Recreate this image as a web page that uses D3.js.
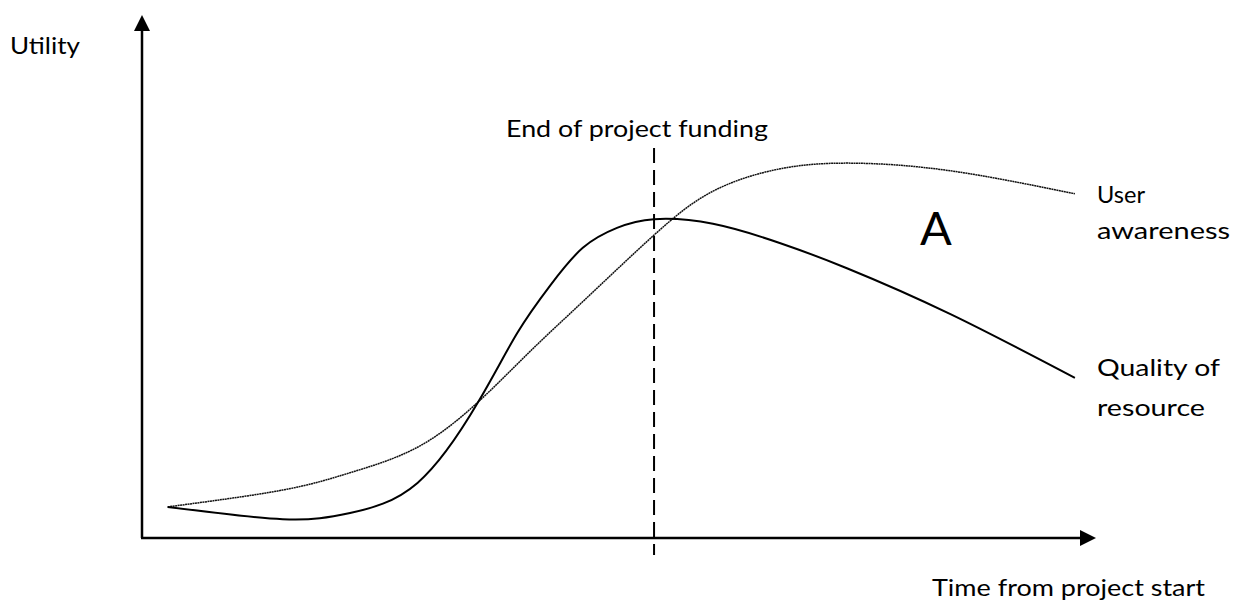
<!DOCTYPE html>
<html>
<head>
<meta charset="utf-8">
<script src="https://cdn.jsdelivr.net/npm/d3@7"></script>
<style>
  body { margin: 0; background: #fff; }
  text { font-family: Lato, "Open Sans", sans-serif; fill: #000; }
</style>
</head>
<body>
<div id="chart"></div>
<script>
// time from project start (0-100) and utility (0-100)
const qualityTime = [2.7, 14.8, 21.9, 29.0, 35.4, 39.5, 43.0, 46.4, 50.0, 53.9, 60.1, 67.2, 74.2, 85.1, 98.2];
const qualityValue = [6.1, 3.7, 4.9, 10.8, 26.7, 40.2, 49.6, 56.9, 60.8, 62.5, 61.6, 57.8, 52.9, 43.9, 31.4];
const awarenessTime = [2.7, 14.8, 21.9, 29.0, 35.4, 40.8, 46.6, 53.9, 60.1, 67.2, 74.8, 85.1, 98.2];
const awarenessValue = [6.1, 9.4, 12.8, 17.8, 26.7, 36.5, 46.7, 59.4, 68.0, 72.4, 73.5, 72.0, 67.5];
const fundingEnd = 53.9;

const width = 1235, height = 601;
const x = d3.scaleLinear().domain([0, 100]).range([142, 1092]);
const y = d3.scaleLinear().domain([0, 100]).range([538, 28]);

const svg = d3.select("#chart").append("svg")
  .attr("width", width)
  .attr("height", height);

// axes with arrow heads
svg.append("line")
  .attr("x1", x(0)).attr("y1", y(0))
  .attr("x2", x(0)).attr("y2", 29)
  .attr("stroke", "#000").attr("stroke-width", 2.5);
svg.append("path")
  .attr("d", `M${x(0)},15 L${x(0) - 8},31 L${x(0) + 8},31 Z`)
  .attr("fill", "#000");

svg.append("line")
  .attr("x1", x(0) - 1).attr("y1", y(0))
  .attr("x2", 1082).attr("y2", y(0))
  .attr("stroke", "#000").attr("stroke-width", 2.5);
svg.append("path")
  .attr("d", `M1096,${y(0)} L1080,${y(0) - 8} L1080,${y(0) + 8} Z`)
  .attr("fill", "#000");

// end of funding marker
svg.append("line")
  .attr("x1", x(fundingEnd)).attr("y1", 148)
  .attr("x2", x(fundingEnd)).attr("y2", 555)
  .attr("stroke", "#000").attr("stroke-width", 2)
  .attr("stroke-dasharray", "15,7");

const line = d3.line()
  .x(d => x(d[0]))
  .y(d => y(d[1]))
  .curve(d3.curveNatural);

svg.append("path")
  .datum(d3.zip(awarenessTime, awarenessValue))
  .attr("d", line)
  .attr("fill", "none")
  .attr("stroke", "#111")
  .attr("stroke-width", 1.5)
  .attr("stroke-dasharray", "2,0.5");

svg.append("path")
  .datum(d3.zip(qualityTime, qualityValue))
  .attr("d", line)
  .attr("fill", "none")
  .attr("stroke", "#000")
  .attr("stroke-width", 2);

// labels
const labels = [
  { t: "Utility", x: 10, y: 54, w: 70 },
  { t: "End of project funding", x: 506, y: 137, w: 262 },
  { t: "Time from project start", x: 932, y: 596, w: 273 },
  { t: "User", x: 1097, y: 203, w: 48 },
  { t: "awareness", x: 1097, y: 239, w: 133 },
  { t: "Quality of", x: 1097, y: 376, w: 123 },
  { t: "resource", x: 1097, y: 416, w: 108 }
];

svg.selectAll("text.lbl")
  .data(labels)
  .join("text")
  .attr("class", "lbl")
  .attr("x", d => d.x)
  .attr("y", d => d.y)
  .attr("font-size", 24)
  .attr("textLength", d => d.w)
  .attr("lengthAdjust", "spacingAndGlyphs")
  .text(d => d.t);

svg.append("text")
  .attr("x", 920)
  .attr("y", 245)
  .attr("font-size", 47)
  .text("A");
</script>
</body>
</html>
